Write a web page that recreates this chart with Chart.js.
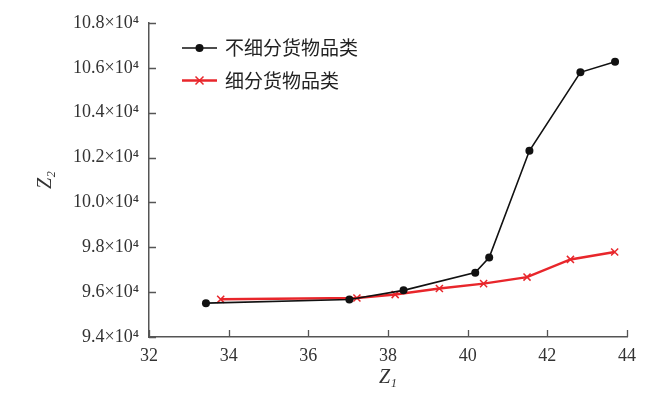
<!DOCTYPE html>
<html lang="zh">
<head>
<meta charset="UTF-8">
<script src="https://cdn.jsdelivr.net/npm/chart.js@4/dist/chart.umd.min.js"></script>
<style>
  html, body { margin: 0; padding: 0; background: #fff; }
  #wrap { width: 650px; height: 396px; }
</style>
</head>
<body>
<div id="wrap"><canvas id="cvs" width="650" height="396"></canvas></div>
<script>
// 数据 (Z1, Z2)
const seriesNames = ['不细分货物品类', '细分货物品类'];
const z1Coarse = [33.43, 37.03, 38.39, 40.19, 40.54, 41.55, 42.83, 43.70];
const z2Coarse = [95510, 95670, 96080, 96870, 97540, 102300, 105800, 106270];
const z1Fine = [33.80, 37.22, 38.18, 39.29, 40.40, 41.49, 42.58, 43.69];
const z2Fine = [95680, 95740, 95890, 96160, 96380, 96670, 97460, 97790];
const xTicks = [32, 34, 36, 38, 40, 42, 44];
const yTicks = [94000, 96000, 98000, 100000, 102000, 104000, 106000, 108000];

const toPts = (xs, ys) => xs.map((x, i) => ({ x, y: ys[i] }));
const AXIS = '#555';
const serif = "'Liberation Serif', 'DejaVu Serif', serif";

// 刻度线朝内
const innerTicks = {
  id: 'innerTicks',
  afterDraw(chart) {
    const { ctx, chartArea: a, scales: { x, y } } = chart;
    ctx.save();
    ctx.strokeStyle = AXIS;
    ctx.lineWidth = 1.3;
    ctx.beginPath();
    xTicks.forEach(v => {
      const px = Math.round(x.getPixelForValue(v)) + 0.5;
      ctx.moveTo(px, a.bottom); ctx.lineTo(px, a.bottom - 7);
    });
    yTicks.forEach(v => {
      const py = Math.round(y.getPixelForValue(v)) + 0.5;
      ctx.moveTo(a.left, py); ctx.lineTo(a.left + 7, py);
    });
    ctx.stroke();
    ctx.restore();
  }
};

// 图例 (画在绘图区内)
const insideLegend = {
  id: 'insideLegend',
  afterDraw(chart) {
    const { ctx, chartArea: a } = chart;
    ctx.save();
    chart.data.datasets.forEach((ds, i) => {
      const y0 = a.top + 25 + i * 32.5;
      const x0 = a.left + 33, x1 = a.left + 68, xm = (x0 + x1) / 2;
      ctx.strokeStyle = ds.borderColor;
      ctx.lineWidth = ds.borderWidth;
      ctx.beginPath(); ctx.moveTo(x0, y0); ctx.lineTo(x1, y0); ctx.stroke();
      if (ds.pointStyle === 'circle') {
        ctx.fillStyle = ds.pointBackgroundColor;
        ctx.beginPath(); ctx.arc(xm, y0, 4, 0, Math.PI * 2); ctx.fill();
      } else {
        const r = 4;
        ctx.lineWidth = 1.5;
        ctx.beginPath();
        ctx.moveTo(xm - r, y0 - r); ctx.lineTo(xm + r, y0 + r);
        ctx.moveTo(xm + r, y0 - r); ctx.lineTo(xm - r, y0 + r);
        ctx.stroke();
      }
      ctx.fillStyle = '#222';
      ctx.font = "19px 'Noto Sans CJK SC', sans-serif";
      ctx.textBaseline = 'middle';
      ctx.fillText(ds.label, a.left + 76, y0);
    });
    ctx.restore();
  }
};

new Chart(document.getElementById('cvs').getContext('2d'), {
  type: 'line',
  data: {
    datasets: [
      {
        label: seriesNames[0], data: toPts(z1Coarse, z2Coarse),
        borderColor: '#111', borderWidth: 1.6, tension: 0,
        pointStyle: 'circle', pointRadius: 4, pointBackgroundColor: '#111', pointBorderColor: '#111', pointBorderWidth: 0
      },
      {
        label: seriesNames[1], data: toPts(z1Fine, z2Fine),
        borderColor: '#e8262b', borderWidth: 2.5, tension: 0,
        pointStyle: 'crossRot', pointRadius: 5, pointBorderColor: '#e8262b', pointBorderWidth: 1.5
      }
    ]
  },
  options: {
    responsive: false,
    animation: false,
    layout: { padding: { left: 0, right: 23, top: 23, bottom: 0 } },
    plugins: { legend: { display: false }, tooltip: { enabled: false } },
    scales: {
      x: {
        type: 'linear', min: 32, max: 44,
        afterBuildTicks: s => { s.ticks = xTicks.map(v => ({ value: v })); },
        afterFit: s => { s.height = 59; },
        grid: { display: true, drawOnChartArea: false, drawTicks: false },
        border: { color: AXIS, width: 1.5 },
        ticks: { color: '#333', padding: 8, font: { family: serif, size: 18 }, maxRotation: 0 },
        title: { display: true, text: 'Z₁', color: '#333', padding: { top: 0, bottom: 6 },
                 font: { family: serif, size: 20, style: 'italic' } }
      },
      y: {
        type: 'linear', min: 94000, max: 108000,
        afterBuildTicks: s => { s.ticks = yTicks.map(v => ({ value: v })); },
        afterFit: s => { s.width = 149; },
        grid: { display: true, drawOnChartArea: false, drawTicks: false },
        border: { color: AXIS, width: 1.5 },
        ticks: {
          color: '#333', padding: 10, font: { family: serif, size: 18 },
          callback: v => (v / 10000).toFixed(1) + '×10⁴'
        },
        title: { display: true, text: 'Z₂', color: '#333', padding: { top: 34, bottom: 0 },
                 font: { family: serif, size: 20, style: 'italic' } }
      }
    }
  },
  plugins: [innerTicks, insideLegend]
});
</script>
</body>
</html>
